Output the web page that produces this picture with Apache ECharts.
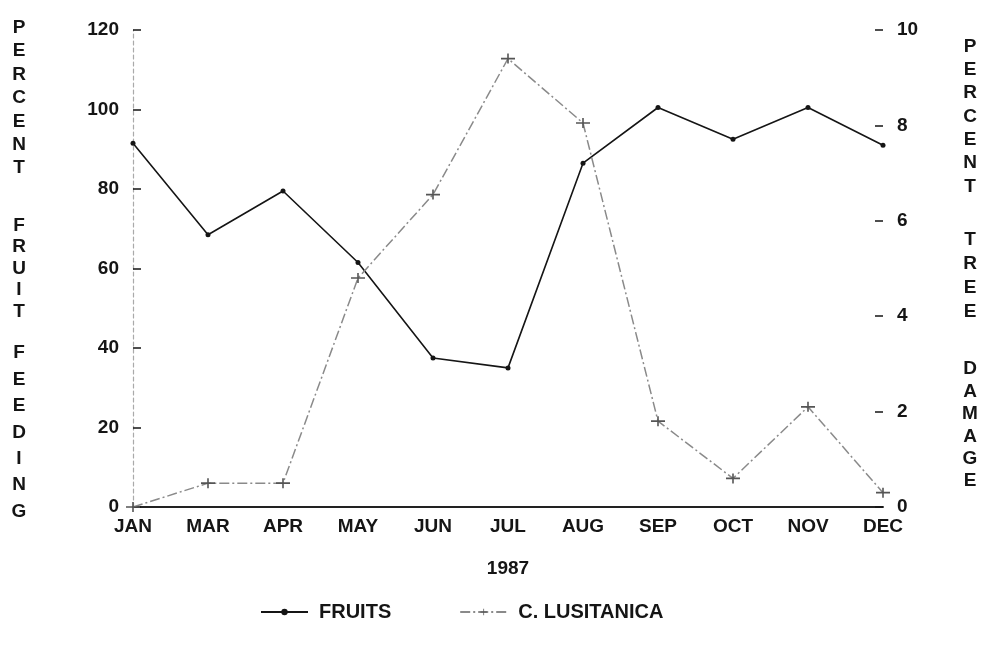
<!DOCTYPE html>
<html>
<head>
<meta charset="utf-8">
<script src="https://cdn.jsdelivr.net/npm/echarts@6/dist/echarts.min.js"></script>
<style>
  html, body { margin: 0; padding: 0; background: #fff; }
  #main { width: 993px; height: 651px; }
</style>
</head>
<body>
<div id="main"></div>
<script>
// data
var months = ['JAN', 'MAR', 'APR', 'MAY', 'JUN', 'JUL', 'AUG', 'SEP', 'OCT', 'NOV', 'DEC'];
var fruits = [91.5, 68.5, 79.5, 61.5, 37.5, 35, 86.5, 100.5, 92.5, 100.5, 91];      // left axis, %
var lusitanica = [0, 0.5, 0.5, 4.8, 6.55, 9.4, 8.05, 1.8, 0.6, 2.1, 0.3];       // right axis, %
var leftTicks = [0, 20, 40, 60, 80, 100, 120];
var rightTicks = [0, 2, 4, 6, 8, 10];

var FONT = 'Liberation Sans, Arial, sans-serif';
var INK = '#151515';

var chart = echarts.init(document.getElementById('main'));

// vertical stacked axis titles
function stack(word) {
    return word.split('').join('\n');
}
function sideText(x, y, word, pitch) {
    return {
        type: 'text',
        x: x,
        y: y,
        style: {
            text: stack(word),
            font: 'bold 19px ' + FONT,
            lineHeight: pitch,
            fill: INK,
            align: 'center',
            verticalAlign: 'top'
        }
    };
}

var plus = 'path://M0,4 L14,4 L14,5.6 L0,5.6 Z M6.2,0 L7.8,0 L7.8,9.6 L6.2,9.6 Z';
var label = { fontSize: 19, fontWeight: 'bold', color: INK };

chart.setOption({
    backgroundColor: '#fff',
    animation: false,
    textStyle: { fontFamily: FONT, color: INK },
    grid: { left: 133, right: 110, top: 30, bottom: 144 },
    legend: {
        left: 255,
        top: 597,
        itemWidth: 47,
        itemHeight: 8,
        itemGap: 68,
        textStyle: { fontSize: 20, fontWeight: 'bold', color: INK, fontFamily: FONT, padding: [0, 0, 0, 6] },
        data: ['FRUITS', 'C. LUSITANICA']
    },
    xAxis: [{
        type: 'category',
        data: months,
        boundaryGap: false,
        name: '1987',
        nameLocation: 'middle',
        nameGap: 52,
        nameTextStyle: label,
        axisLine: { lineStyle: { color: INK, width: 1.6 } },
        axisTick: { show: false },
        axisLabel: Object.assign({ margin: 10 }, label),
        splitLine: { show: false }
    }, {
        type: 'category',
        data: months,
        boundaryGap: false,
        position: 'top',
        axisLine: { lineStyle: { color: INK, width: 1.6 } },
        axisTick: { show: false },
        axisLabel: { show: false },
        splitLine: { show: false }
    }],
    yAxis: [{
        type: 'value',
        min: leftTicks[0],
        max: leftTicks[leftTicks.length - 1],
        interval: 20,
        axisLine: { show: true, lineStyle: { color: '#aaa', width: 1.2, type: [4, 3] } },
        axisTick: { show: true, inside: true, length: 8, lineStyle: { color: INK, width: 1.5 } },
        axisLabel: Object.assign({ margin: 14 }, label),
        splitLine: { show: false }
    }, {
        type: 'value',
        min: rightTicks[0],
        max: rightTicks[rightTicks.length - 1],
        interval: 2,
        position: 'right',
        axisLine: { show: false },
        axisTick: { show: true, inside: true, length: 8, lineStyle: { color: INK, width: 1.5 } },
        axisLabel: Object.assign({ margin: 14 }, label),
        splitLine: { show: false }
    }],
    series: [{
        name: 'FRUITS',
        type: 'line',
        yAxisIndex: 0,
        data: fruits,
        symbol: 'circle',
        symbolSize: 5,
        itemStyle: { color: INK },
        lineStyle: { color: INK, width: 1.6 }
    }, {
        name: 'C. LUSITANICA',
        type: 'line',
        yAxisIndex: 1,
        data: lusitanica,
        symbol: plus,
        symbolSize: [14, 10],
        itemStyle: { color: '#555' },
        lineStyle: { color: '#8a8a8a', width: 1.5, type: [10, 3, 2, 3] }
    }],
    graphic: [
        sideText(19, 16, 'PERCENT', 23.4),
        sideText(19, 215, 'FRUIT', 21.5),
        sideText(19, 340, 'FEEDING', 26.4),
        sideText(970, 35, 'PERCENT', 23.3),
        sideText(970, 228, 'TREE', 24),
        sideText(970, 358, 'DAMAGE', 22.4)
    ]
});
</script>
</body>
</html>
